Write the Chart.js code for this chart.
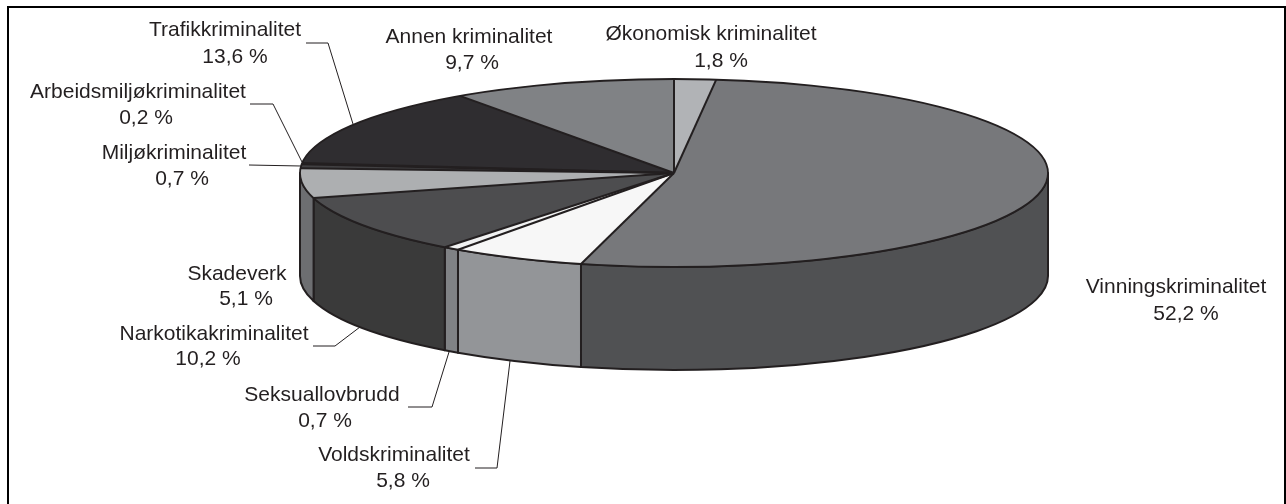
<!DOCTYPE html>
<html><head><meta charset="utf-8">
<style>html,body{margin:0;padding:0;background:#fff}canvas{display:block}</style>
<script src="https://cdn.jsdelivr.net/npm/chart.js@4"></script>
</head><body><canvas id="c" width="1286" height="504"></canvas>
<script>
const categories = ["Økonomisk kriminalitet","Vinningskriminalitet","Voldskriminalitet","Seksuallovbrudd","Narkotikakriminalitet","Skadeverk","Miljøkriminalitet","Arbeidsmiljøkriminalitet","Trafikkriminalitet","Annen kriminalitet"];
const values = [1.8,52.2,5.8,0.7,10.2,5.1,0.7,0.2,13.6,9.7];
const topColors = ["#b1b3b6","#77787b","#f7f7f7","#f1f2f2","#4d4d4f","#adafb1","#414042","#231f20","#2f2d30","#808285"];
const wallColors = ["#808285","#505153","#939598","#808285","#3a3a3a","#6d6e71","#58595b","#58595b","#414042","#58595b"];
const INK = "#231f20";
// text centres: [name x, name y, value x, value y]
const labelPlaces = [
 [711,34,721,61],[1176,287,1186,314],[394,455,403,481],[322,395,325,421],[214,334,208,359],
 [237,274,246,299],[174,153,182,179],[138,92,146,118],[225,30,235,57],[469,37,472,63]];
// leader polylines, index-matched with categories
const leaders = [null,null,
 [[475,468],[497,468],[510,361]],
 [[408,407],[432,407],[449,352]],
 [[313,346],[335,346],[360,327]],
 null,
 [[249,165],[301,166]],
 [[250,104],[273,104],[302,162]],
 [[306,43],[328,43],[353,124]],
 null];
const view = {cy:173, ry:94, depth:103};

function project(chart){
  const a = chart.getDatasetMeta(0).data[0];
  return {x:a.x, srcY:a.y, rx:a.outerRadius, cy:view.cy, ry:view.ry};
}
const pie3d = {
  id:'pie3d',
  beforeDatasetDraw(chart){
    const ctx = chart.ctx, p = project(chart), arcs = chart.getDatasetMeta(0).data;
    ctx.save();
    ctx.lineJoin='round';
    arcs.forEach((arc,i)=>{
      const a0 = Math.max(arc.startAngle,0), a1 = Math.min(arc.endAngle,Math.PI);
      if (a1<=a0) return;
      ctx.beginPath();
      ctx.ellipse(p.x,p.cy,p.rx,p.ry,0,a0,a1);
      ctx.ellipse(p.x,p.cy+view.depth,p.rx,p.ry,0,a1,a0,true);
      ctx.closePath();
      ctx.fillStyle = wallColors[i];
      ctx.fill();
      ctx.lineWidth=2; ctx.strokeStyle=INK; ctx.stroke();
    });
    ctx.restore();
    ctx.save();
    ctx.translate(p.x,p.cy);
    ctx.scale(1,p.ry/p.rx);
    ctx.translate(-p.x,-p.srcY);
  },
  afterDatasetDraw(chart){
    const ctx = chart.ctx;
    ctx.restore();
    const p = project(chart), arcs = chart.getDatasetMeta(0).data;
    ctx.save();
    ctx.strokeStyle=INK; ctx.lineJoin='round';
    ctx.lineWidth=2;
    arcs.forEach(arc=>{
      ctx.beginPath();
      ctx.moveTo(p.x,p.cy);
      ctx.lineTo(p.x+p.rx*Math.cos(arc.startAngle),p.cy+p.ry*Math.sin(arc.startAngle));
      ctx.stroke();
    });
    ctx.lineWidth=1.8;
    ctx.beginPath();
    ctx.ellipse(p.x,p.cy,p.rx,p.ry,0,0,Math.PI*2);
    ctx.stroke();
    ctx.restore();
  },
  afterDraw(chart){
    const ctx = chart.ctx;
    ctx.save();
    ctx.strokeStyle="#000"; ctx.lineWidth=2;
    ctx.beginPath();
    ctx.moveTo(8,504); ctx.lineTo(8,7); ctx.lineTo(1285,7); ctx.lineTo(1285,504);
    ctx.stroke();
    ctx.strokeStyle=INK; ctx.lineWidth=1;
    leaders.forEach(l=>{
      if(!l) return;
      ctx.beginPath();
      l.forEach((q,i)=> i?ctx.lineTo(q[0],q[1]):ctx.moveTo(q[0],q[1]));
      ctx.stroke();
    });
    ctx.fillStyle=INK; ctx.font='21px "Liberation Sans"'; ctx.textAlign='center'; ctx.textBaseline='middle';
    categories.forEach((name,i)=>{
      const q = labelPlaces[i];
      ctx.fillText(name,q[0],q[1]);
      ctx.fillText(values[i].toFixed(1).replace('.',',')+' %',q[2],q[3]);
    });
    ctx.restore();
  }
};
new Chart(document.getElementById('c'),{
  type:'pie',
  data:{labels:categories,datasets:[{data:values,backgroundColor:topColors,borderWidth:0,clip:false}]},
  options:{responsive:false,animation:false,radius:374,
    layout:{padding:{left:62}},
    plugins:{legend:{display:false},tooltip:{enabled:false}}},
  plugins:[pie3d]
});
</script></body></html>
